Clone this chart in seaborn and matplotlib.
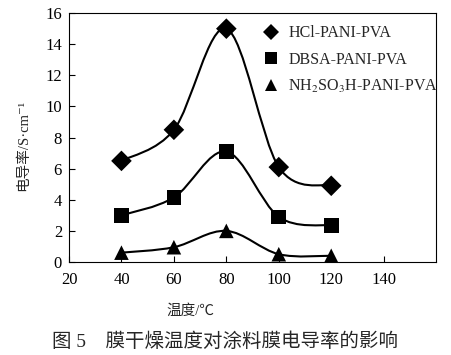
import matplotlib
matplotlib.use("Agg")
import matplotlib.pyplot as plt
from matplotlib.path import Path
from matplotlib.patches import PathPatch
import numpy as np
import pandas as pd
import seaborn as sns

# drying temperature (°C) and conductivity (S/cm)
temperature = [40, 60, 80, 100, 120]
hcl = [6.5, 8.5, 15.0, 6.1, 4.9]
dbsa = [3.0, 4.15, 7.1, 2.9, 2.35]
nh2so3h = [0.6, 0.95, 2.0, 0.5, 0.4]
series_names = ["HCl-PANI-PVA", "DBSA-PANI-PVA", "NH$_2$SO$_3$H-PANI-PVA"]
x_ticks = [20, 40, 60, 80, 100, 120, 140]
y_ticks = [0, 2, 4, 6, 8, 10, 12, 14, 16]


def smooth_path(xs, ys):
    # Excel-like smoothed line: Catmull-Rom segments turned into cubic Bezier
    pts = np.column_stack([xs, ys]).astype(float)
    ext = np.vstack([pts[0], pts, pts[-1]])
    verts = [pts[0]]
    codes = [Path.MOVETO]
    for i in range(1, len(ext) - 2):
        p0, p1, p2, p3 = ext[i - 1], ext[i], ext[i + 1], ext[i + 2]
        verts += [p1 + (p2 - p0) / 6, p2 - (p3 - p1) / 6, p2]
        codes += [Path.CURVE4] * 3
    return Path(verts, codes)


df = pd.DataFrame({
    "temp": temperature * 3,
    "cond": hcl + dbsa + nh2so3h,
    "series": [series_names[0]] * 5 + [series_names[1]] * 5 + [series_names[2]] * 5,
})

sns.set_style("ticks")
plt.rcParams["font.family"] = ["Liberation Serif", "Noto Sans CJK SC", "DejaVu Serif"]
plt.rcParams["mathtext.fontset"] = "stix"
plt.rcParams["xtick.direction"] = "in"
plt.rcParams["ytick.direction"] = "in"

fig = plt.figure(figsize=(4.51, 3.55), dpi=100)
ax = fig.add_axes([0.153, 0.262, 0.814, 0.701])

for ys in (hcl, dbsa, nh2so3h):
    ax.add_patch(PathPatch(smooth_path(temperature, ys), facecolor="none",
                           edgecolor="black", lw=1.5, zorder=2))

sns.scatterplot(data=df, x="temp", y="cond", hue="series", style="series",
                markers={series_names[0]: "D", series_names[1]: "s", series_names[2]: "^"},
                palette=["black"] * 3, s=110, edgecolor="black", linewidth=0,
                ax=ax, zorder=3)

ax.set_xlim(20, 160)
ax.set_ylim(0, 16)
ax.set_xticks(x_ticks)
ax.set_yticks(y_ticks)
ax.tick_params(labelsize=12, length=4, width=0.8, color="black", labelcolor="black")
ax.tick_params(axis="x", pad=7)
ax.tick_params(axis="y", pad=5)
for sp in ax.spines.values():
    sp.set_color("black")
    sp.set_linewidth(0.8)

ax.set_xlabel("温度/℃", fontsize=10.5)
ax.xaxis.set_label_coords(0.33, -0.17)
ax.set_ylabel("电导率/S·cm⁻¹", fontsize=10.5)
ax.yaxis.set_label_coords(-0.105, 0.47)

leg = ax.legend(loc="upper left", bbox_to_anchor=(0.48, 0.99), frameon=False,
                fontsize=11.5, handletextpad=0.1, labelspacing=0.65,
                markerscale=0.8, borderaxespad=0.2)
for h in leg.legend_handles:
    h.set_color("black")

fig.text(0.50, 0.012, "图 5　膜干燥温度对涂料膜电导率的影响", ha="center",
         va="bottom", fontsize=14)

fig.savefig("out.png", dpi=100)
